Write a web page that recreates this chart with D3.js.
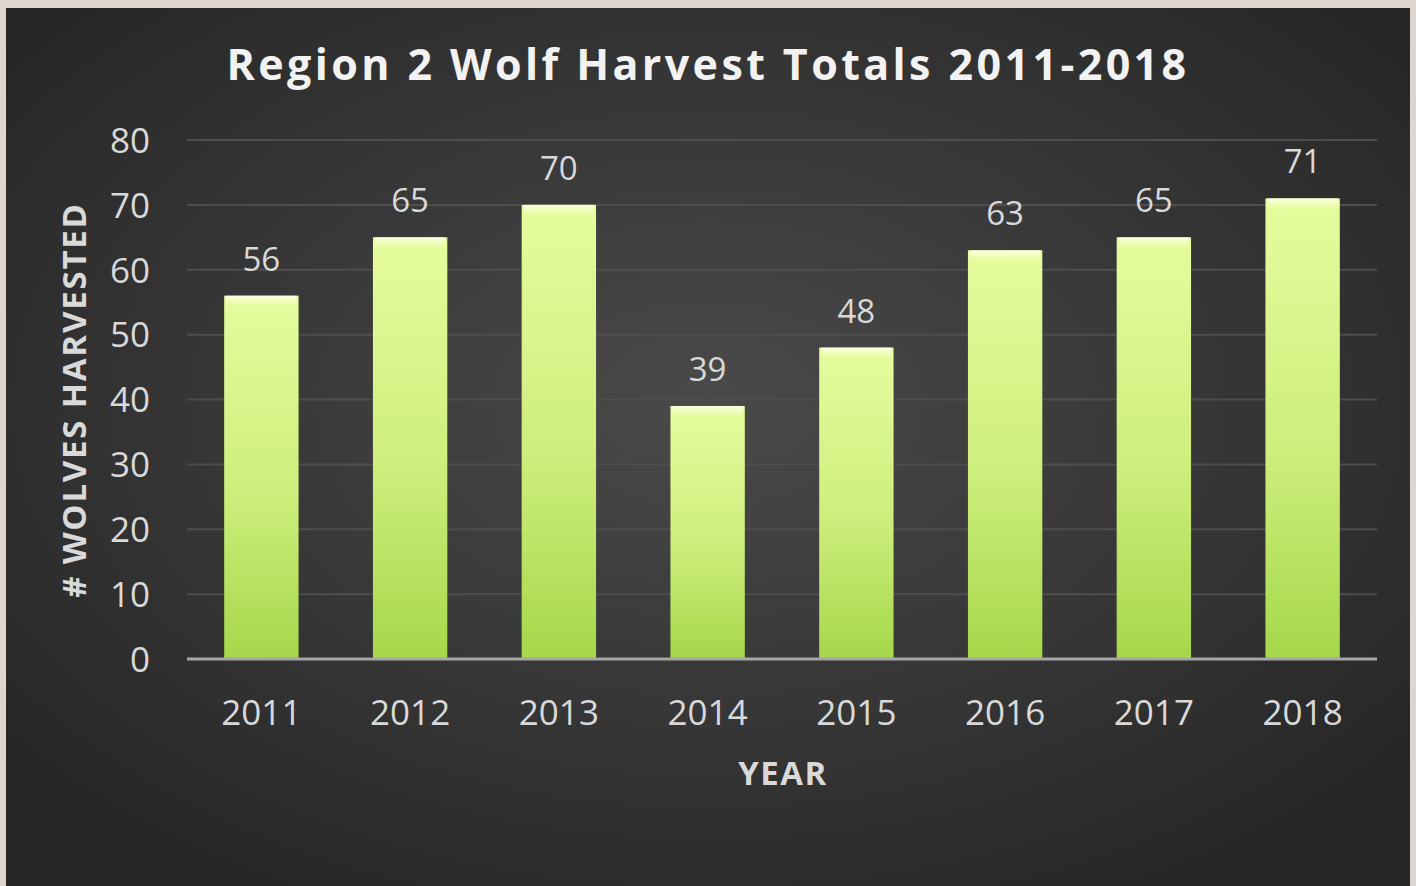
<!DOCTYPE html>
<html>
<head>
<meta charset="utf-8">
<script src="https://cdn.jsdelivr.net/npm/d3@7"></script>
<style>
  html, body { margin: 0; padding: 0; background: #ddd5cf; }
  svg { display: block; }
</style>
</head>
<body>
<svg id="chart" width="1416" height="886"></svg>
<script>
// Region 2 wolf harvest by year
const years = ["2011", "2012", "2013", "2014", "2015", "2016", "2017", "2018"];
const harvested = [56, 65, 70, 39, 48, 63, 65, 71];
const yTicks = [0, 10, 20, 30, 40, 50, 60, 70, 80];

const svg = d3.select("#chart");
const W = 1416, H = 886;
const font = "'Open Sans', 'Noto Sans', sans-serif";

const defs = svg.append("defs");
const bg = defs.append("radialGradient").attr("id", "bgGrad")
  .attr("cx", "50%").attr("cy", "45%").attr("r", "65%");
bg.append("stop").attr("offset", "0%").attr("stop-color", "#4a4a4a");
bg.append("stop").attr("offset", "100%").attr("stop-color", "#262626");

const barGrad = defs.append("linearGradient").attr("id", "barGrad")
  .attr("x1", 0).attr("y1", 0).attr("x2", 0).attr("y2", 1);
barGrad.append("stop").attr("offset", "0%").attr("stop-color", "#e6fc9e");
barGrad.append("stop").attr("offset", "55%").attr("stop-color", "#cdee7c");
barGrad.append("stop").attr("offset", "100%").attr("stop-color", "#a6d74a");

const shine = defs.append("linearGradient").attr("id", "shine")
  .attr("x1", 0).attr("y1", 0).attr("x2", 0).attr("y2", 1);
shine.append("stop").attr("offset", "0%").attr("stop-color", "#ffffe8").attr("stop-opacity", 0.9);
shine.append("stop").attr("offset", "100%").attr("stop-color", "#ffffe8").attr("stop-opacity", 0);

// Chart panel
svg.append("rect").attr("x", 6).attr("y", 8).attr("width", 1404).attr("height", H - 8)
  .attr("fill", "url(#bgGrad)");

const margin = { left: 187, right: 1377, top: 140, bottom: 659 };

const x = d3.scaleBand().domain(years).range([margin.left, margin.right]).paddingInner(0.5).paddingOuter(0.25);
const y = d3.scaleLinear().domain([0, 80]).range([margin.bottom, margin.top]);

// Gridlines
svg.append("g").selectAll("line").data(yTicks.filter(d => d > 0)).join("line")
  .attr("x1", margin.left).attr("x2", margin.right)
  .attr("y1", d => y(d)).attr("y2", d => y(d))
  .attr("stroke", "#4e4e4e").attr("stroke-width", 2);

// Y tick labels
const yAxis = svg.append("g").attr("transform", `translate(${margin.left - 37},0)`)
  .call(d3.axisLeft(y).tickValues(yTicks).tickSize(0).tickPadding(0));
yAxis.select(".domain").remove();
yAxis.selectAll("text").attr("fill", "#d9d9d9").attr("font-size", 35)
  .attr("font-family", font).attr("dy", "0.35em");

// Bars
const bars = svg.append("g").selectAll("g").data(years).join("g");
bars.append("rect")
  .attr("x", d => x(d)).attr("width", x.bandwidth())
  .attr("y", (d, i) => y(harvested[i]))
  .attr("height", (d, i) => y(0) - y(harvested[i]))
  .attr("fill", "url(#barGrad)");
bars.append("rect")
  .attr("x", d => x(d) + 2).attr("width", x.bandwidth() - 4)
  .attr("y", (d, i) => y(harvested[i]))
  .attr("height", 10)
  .attr("fill", "url(#shine)");

// Value labels
bars.append("text")
  .attr("x", d => x(d) + x.bandwidth() / 2)
  .attr("y", (d, i) => y(harvested[i]) - 25)
  .attr("text-anchor", "middle")
  .attr("fill", "#d9d9d9").attr("font-size", 33).attr("font-family", font)
  .text((d, i) => harvested[i]);

// X axis
const xAxis = svg.append("g").attr("transform", `translate(0,${margin.bottom})`)
  .call(d3.axisBottom(x).tickSize(0).tickPadding(38));
xAxis.select(".domain").attr("stroke", "#a6a6a6").attr("stroke-width", 3)
  .attr("d", `M${margin.left},0H${margin.right}`);
xAxis.selectAll("text").attr("fill", "#d9d9d9").attr("font-size", 35)
  .attr("font-family", font).attr("dy", "0.35em").attr("y", 54);

// Title
svg.append("text").attr("x", 708).attr("y", 80).attr("text-anchor", "middle")
  .attr("fill", "#f2f2f2").attr("font-size", 43).attr("font-weight", "bold")
  .attr("font-family", font).attr("letter-spacing", 3.4)
  .text("Region 2 Wolf Harvest Totals 2011-2018");

// Axis titles
svg.append("text").attr("x", 783).attr("y", 785).attr("text-anchor", "middle")
  .attr("fill", "#d9d9d9").attr("font-size", 33).attr("font-weight", "bold")
  .attr("font-family", font).attr("letter-spacing", 1.5).text("YEAR");

svg.append("text")
  .attr("transform", "translate(86,400) rotate(-90)")
  .attr("text-anchor", "middle")
  .attr("fill", "#d9d9d9").attr("font-size", 33).attr("font-weight", "bold")
  .attr("font-family", font).attr("letter-spacing", 1.8).text("# WOLVES HARVESTED");
</script>
</body>
</html>
